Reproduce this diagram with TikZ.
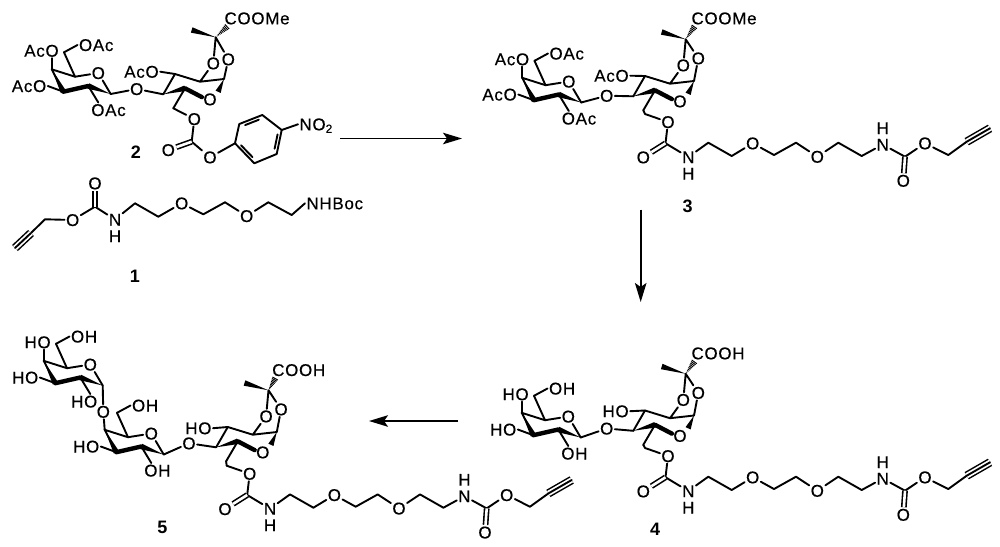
\documentclass[tikz,border=0pt]{standalone}
\usepackage{fontspec}
\setmainfont{Liberation Sans}
\newfontfamily\atomfamily[LetterSpace=4,FakeBold=0.4]{Liberation Sans}
\usetikzlibrary{arrows.meta,calc}
\tikzset{
  atom/.style={inner sep=0pt,outer sep=1.5pt,font=\atomfamily\fontsize{17}{17}\selectfont,text height=12pt,text depth=0pt},
  oleft/.style={atom,anchor=east,xshift=8.5pt},
  oright/.style={atom,anchor=west,xshift=-8.5pt},
  molnum/.style={inner sep=0pt,font=\fontsize{18}{18}\selectfont\bfseries},
  bond/.style={black,line width=1.9pt,line cap=round,line join=round},
  fatbond/.style={black,line width=4.4pt,line cap=round},
  dblbond/.style={black,double,double distance=2.6pt,line width=1.6pt},
  reaction/.style={black,line width=1.8pt,-{Stealth[length=19pt,width=11.5pt,inset=4pt]}}
}
\newcommand{\wedgebond}[2]{\fill ($(#1)$) -- ($(#2)!2.8pt!90:(#1)$) -- ($(#2)!2.8pt!-90:(#1)$) -- cycle;}
\newcommand{\hashbond}[2]{%
  \foreach \t in {.12,.22,.32,.42,.52,.62,.72,.82,.92}{%
    \pgfmathsetmacro\w{\t*3.4}%
    \draw[line width=1pt] ($(#1)!\t!(#2)!\w pt!90:(#2)$) -- ($(#1)!\t!(#2)!\w pt!-90:(#2)$);
  }}
\newcommand{\galunit}[3]{%
  \begin{scope}[shift={(#2,#3)}]
    \coordinate (#1c1) at (110.7,94);
    \coordinate (#1c2) at (88.3,86);
    \coordinate (#1c3) at (63.3,91.7);
    \coordinate (#1c4) at (51.7,69.3);
    \coordinate (#1c5) at (75,76.7);
    \coordinate (#1c6) at (64,52.3);
    \coordinate (#1p2) at (98.3,110);
    \coordinate (#1p3) at (39.3,86);
    \coordinate (#1p4) at (51.7,50.7);
    \coordinate (#1p6) at (86,45);
    \node[atom] (#1or) at (98.3,73) {O};
  \end{scope}
  \draw[bond] (#1c3) -- (#1c4) -- (#1c5) -- (#1or) -- (#1c1);
  \draw[bond] (#1c5) -- (#1c6);
  \wedgebond{#1c4}{#1c3}
  \draw[fatbond] (#1c3) -- (#1c2);
  \wedgebond{#1c1}{#1c2}
}
\newcommand{\neuunit}[4]{%
  \begin{scope}[shift={(#2,#3)}]
    \coordinate (#1c3) at (163.3,94.3);
    \coordinate (#1c4) at (175,74);
    \coordinate (#1c5) at (200,81.7);
    \coordinate (#1c2) at (185,88.3);
    \coordinate (#1c6) at (224,79);
    \coordinate (#1q) at (215.7,37.3);
    \coordinate (#1me) at (191.7,30);
    \coordinate (#1ch) at (173.3,108.3);
    \coordinate (#1p4) at (151.7,71.7);
    \node[atom] (#1or) at (210,99.3) {O};
    \node[atom] (#1ou) at (213.3,63.3) {O};
    \node[atom] (#1ob) at (228.3,{59.3-#4}) {O};
  \end{scope}
  \draw[bond] (#1c3) -- (#1c4) -- (#1c5) -- (#1c6) -- (#1ob) -- (#1q) -- (#1ou) -- (#1c5);
  \draw[bond] (#1c2) -- (#1ch);
  \wedgebond{#1c3}{#1c2}
  \draw[fatbond] (#1c2) -- (#1or.165);
  \wedgebond{#1c6}{#1or.north east}
  \wedgebond{#1q}{#1me}
}
\newcommand{\linkerunit}[3]{%
  \begin{scope}[shift={(#2,#3)}]
    \coordinate (#1ch) at (645,114);
    \coordinate (#1cc) at (665.5,143.3);
    \coordinate (#1k1) at (708.3,142.7);
    \coordinate (#1k2) at (731.7,156);
    \coordinate (#1k3) at (774,155);
    \coordinate (#1k4) at (796,142.7);
    \coordinate (#1k5) at (838.3,142.7);
    \coordinate (#1k6) at (861.7,156);
    \coordinate (#1cd) at (905,156.7);
    \coordinate (#1k7) at (948.3,155);
    \coordinate (#1ya) at (966.7,141.7);
    \coordinate (#1yb) at (990,128.3);
    \node[atom] (#1oa) at (668,122) {O};
    \node[atom] (#1ob) at (643.3,157.3) {O};
    \node[atom] (#1na) at (688.3,157) {N};
    \node[atom] (#1ha) at (688.3,173.5) {H};
    \node[atom] (#1oc) at (752.7,143.3) {O};
    \node[atom] (#1od) at (817.3,156.7) {O};
    \node[atom] (#1nb) at (882.7,144.5) {N};
    \node[atom] (#1hb) at (882.7,128) {H};
    \node[atom] (#1oe) at (903.3,180.7) {O};
    \node[atom] (#1of) at (925,143.3) {O};
  \end{scope}
  \draw[bond] (#1ch) -- (#1oa) -- (#1cc) -- (#1na) -- (#1k1) -- (#1k2) -- (#1oc) -- (#1k3) -- (#1k4) -- (#1od) -- (#1k5) -- (#1k6) -- (#1nb) -- (#1cd) -- (#1of) -- (#1k7) -- (#1ya);
  \draw[dblbond] (#1cc) -- (#1ob);
  \draw[dblbond] (#1cd) -- (#1oe);
  \draw[black,double,double distance=5.4pt,line width=1.5pt] (#1ya) -- (#1yb);
  \draw[bond] (#1ya) -- (#1yb);
}
\begin{document}
\begin{tikzpicture}[x=1pt,y=-1pt]
\useasboundingbox (0,0) rectangle (1000,546);

\galunit{a-}{0}{0}
\neuunit{b-}{0}{0}{0}
\node[atom] (a-o1) at (136.7,89) {O};
\node[oright] (a-o2) at (a-p2) {OAc};
\node[oleft] (a-o3) at (a-p3) {AcO};
\node[oleft] (a-o4) at (a-p4) {AcO};
\node[oright] (a-o6) at (a-p6) {OAc};
\node[oleft] (b-o4) at (b-p4) {AcO};
\node[atom,anchor=west] (b-coo) at (223,18.3) {COOMe};
\coordinate (b-cc) at (191.7,141.7);
\node[atom] (b-oa) at (194.3,119) {O};
\node[atom] (b-ob) at (168.3,150) {O};
\node[atom] (b-oc) at (210,157.3) {O};
\coordinate (p-c1) at (235,143.3);
\coordinate (p-c2) at (239.3,124);
\coordinate (p-c3) at (262.3,115);
\coordinate (p-c4) at (281.7,130);
\coordinate (p-c5) at (276.7,154);
\coordinate (p-c6) at (254.3,163.3);
\coordinate (p-mid) at (258.5,139);
\node[atom,anchor=west] (p-no) at (298,124.3) {NO\textsubscript{2}};
\draw[bond] (a-c1) -- (a-o1) -- (b-c3);
\draw[bond] (a-c2) -- ([xshift=8.5pt]a-o2.north west);
\draw[bond] (a-c3) -- (a-o3.east);
\draw[bond] (a-c4) -- ([xshift=-8.5pt]a-o4.south east);
\draw[bond] (a-c6) -- (a-o6.west);
\draw[bond] (b-c4) -- (b-o4.east);
\hashbond{b-q}{[xshift=5pt]b-coo.south west}
\draw[bond] (b-ch) -- (b-oa) -- (b-cc) -- (b-oc) -- (p-c1) -- (p-c2) -- (p-c3) -- (p-c4) -- (p-c5) -- (p-c6) -- (p-c1);
\draw[dblbond] (b-cc) -- (b-ob);
\draw[bond] (p-c4) -- (p-no.west);
\foreach \from/\to in {p-c2/p-c3,p-c4/p-c5,p-c6/p-c1}
  \draw[bond] ($(\from)!.15!(\to)!.15!(p-mid)$) -- ($(\to)!.15!(\from)!.15!(p-mid)$);
\node[molnum] (two) at (136,152.7) {2};

\coordinate (d-c1) at (45,219.3);
\coordinate (d-cc) at (95,206.7);
\coordinate (d-k1) at (135,203.3);
\coordinate (d-k2) at (158.3,216.7);
\coordinate (d-k3) at (203.3,214.3);
\coordinate (d-k4) at (225,202.3);
\coordinate (d-k5) at (268.3,202.3);
\coordinate (d-k6) at (291.7,215);
\coordinate (d-ya) at (31,233);
\coordinate (d-yb) at (15,248);
\node[atom] (d-oa) at (72.7,220) {O};
\node[atom] (d-ob) at (95,183.3) {O};
\node[atom] (d-na) at (115,219.5) {N};
\node[atom] (d-ha) at (115,236) {H};
\node[atom] (d-oc) at (181.7,203.3) {O};
\node[atom] (d-od) at (246.7,216) {O};
\node[atom,anchor=west] (d-nh) at (305,203.3) {NHBoc};
\draw[bond] (d-ya) -- (d-c1) -- (d-oa) -- (d-cc) -- (d-na) -- (d-k1) -- (d-k2) -- (d-oc) -- (d-k3) -- (d-k4) -- (d-od) -- (d-k5) -- (d-k6) -- (d-nh.west);
\draw[dblbond] (d-cc) -- (d-ob);
\draw[black,double,double distance=5.4pt,line width=1.5pt] (d-ya) -- (d-yb);
\draw[bond] (d-ya) -- (d-yb);
\node[molnum] (one) at (135,276) {1};

\galunit{e-}{470.5}{8.5}
\neuunit{f-}{470}{2}{3}
\linkerunit{g-}{0}{0}
\node[atom] (e-o1) at (606.7,95.7) {O};
\node[oright] (e-o2) at (e-p2) {OAc};
\node[oleft] (e-o3) at (e-p3) {AcO};
\node[oleft] (e-o4) at (e-p4) {AcO};
\node[oright] (e-o6) at (e-p6) {OAc};
\node[oleft,yshift=-2pt] (f-o4) at (f-p4) {AcO};
\node[atom,anchor=west] (f-coo) at (690,18.3) {COOMe};
\draw[bond] (e-c1) -- (e-o1) -- (f-c3);
\draw[bond] (e-c2) -- ([xshift=8.5pt]e-o2.north west);
\draw[bond] (e-c3) -- (e-o3.east);
\draw[bond] (e-c4) -- ([xshift=-8.5pt]e-o4.south east);
\draw[bond] (e-c6) -- (e-o6.west);
\draw[bond] (f-c4) -- (f-o4.east);
\draw[bond] (f-ch) -- (g-ch);
\hashbond{f-q}{[xshift=5pt]f-coo.south west}
\node[molnum] (three) at (687.7,206.7) {3};

\galunit{h-}{470}{343.5}
\neuunit{i-}{470}{336.5}{3}
\linkerunit{j-}{0}{334}
\node[atom] (h-o1) at (606.7,428.5) {O};
\node[oright] (h-o2) at (h-p2) {OH};
\node[oleft] (h-o3) at (h-p3) {HO};
\node[oleft] (h-o4) at (h-p4) {HO};
\node[oright] (h-o6) at (h-p6) {OH};
\node[oleft,yshift=-3pt] (i-o4) at (i-p4) {HO};
\node[atom,anchor=west] (i-coo) at (690,353.3) {COOH};
\draw[bond] (h-c1) -- (h-o1) -- (i-c3);
\draw[bond] (h-c2) -- ([xshift=8.5pt]h-o2.north west);
\draw[bond] (h-c3) -- (h-o3.east);
\draw[bond] (h-c4) -- ([xshift=-8.5pt]h-o4.south east);
\draw[bond] (h-c6) -- (h-o6.west);
\draw[bond] (i-c4) -- (i-o4.east);
\draw[bond] (i-ch) -- (j-ch);
\hashbond{i-q}{[xshift=5pt]i-coo.south west}
\node[molnum] (four) at (655,529) {4};

\galunit{k-}{-8}{291.5}
\galunit{l-}{53}{360.5}
\neuunit{m-}{52.8}{353}{3}
\linkerunit{n-}{-418.3}{351.7}
\node[atom] (k-o1) at (103.3,411.7) {O};
\node[atom] (l-o1) at (189,443.3) {O};
\node[oleft] (k-o2) at (k-p2) {HO};
\node[oleft] (k-o3) at (k-p3) {HO};
\node[oleft] (k-o4) at (k-p4) {HO};
\node[oright] (k-o6) at (k-p6) {OH};
\node[oright] (l-o2) at (l-p2) {OH};
\node[oleft] (l-o3) at (l-p3) {HO};
\node[oright] (l-o6) at (l-p6) {OH};
\node[oleft,yshift=-3.5pt] (m-o4) at (m-p4) {HO};
\node[atom,anchor=west] (m-coo) at (270.7,370) {COOH};
\draw[bond] (k-c1) -- (k-o1) -- (l-c4);
\draw[bond] (l-c1) -- (l-o1) -- (m-c3);
\draw[bond] (k-c2) -- ([xshift=-8.5pt]k-o2.north east);
\draw[bond] (k-c3) -- (k-o3.east);
\draw[bond] (k-c4) -- ([xshift=-8.5pt]k-o4.south east);
\draw[bond] (k-c6) -- (k-o6.west);
\draw[bond] (l-c2) -- ([xshift=8.5pt]l-o2.north west);
\draw[bond] (l-c3) -- (l-o3.east);
\draw[bond] (l-c6) -- (l-o6.west);
\draw[bond] (m-c4) -- (m-o4.east);
\draw[bond] (m-ch) -- (n-ch);
\hashbond{m-q}{[xshift=5pt]m-coo.south west}
\node[molnum] (five) at (162.3,527.3) {5};

\coordinate (r-a) at (340,138.5);
\coordinate (r-b) at (462,138.5);
\coordinate (r-c) at (640.7,209.5);
\coordinate (r-d) at (640.7,302);
\coordinate (r-e) at (458,421);
\coordinate (r-f) at (369,421);
\draw[reaction] (r-a) -- (r-b);
\draw[reaction] (r-c) -- (r-d);
\draw[reaction] (r-e) -- (r-f);
\end{tikzpicture}
\end{document}
